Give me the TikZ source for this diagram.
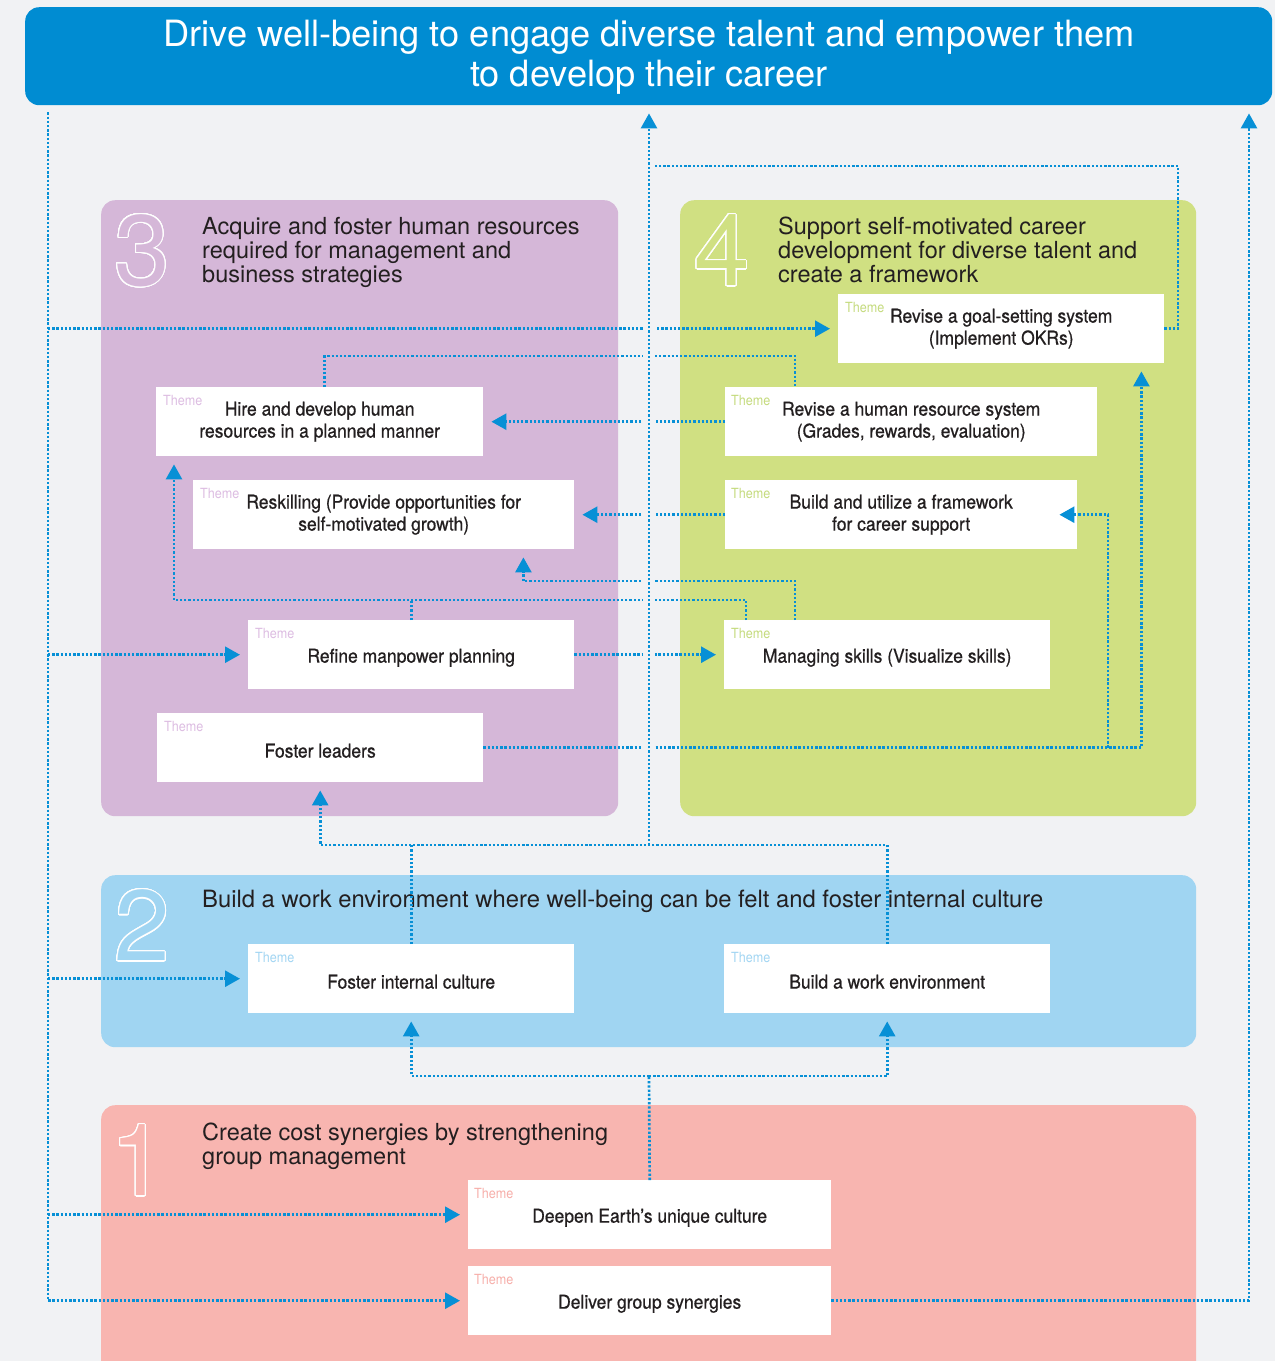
\documentclass[tikz,border=0pt]{standalone}
\usepackage{fontspec}
\setmainfont{TeX Gyre Heros}
\newfontfamily\condfont[FakeStretch=0.92,FakeBold=0.7]{TeX Gyre Heros}
\newfontfamily\themefont[FakeStretch=0.9]{TeX Gyre Heros}
\usepackage{contour}
\contourlength{1.1pt}
\contournumber{32}
\usetikzlibrary{arrows.meta,calc}
\definecolor{bgcol}{HTML}{F1F2F4}
\definecolor{titlecol}{HTML}{008CD2}
\definecolor{pthree}{HTML}{D5B7D8}
\definecolor{pfour}{HTML}{D0E082}
\definecolor{ptwo}{HTML}{A0D5F2}
\definecolor{pone}{HTML}{F8B5B0}
\definecolor{conncol}{HTML}{0790D6}
\definecolor{textcol}{HTML}{231F20}
\definecolor{tthree}{HTML}{DDBDE2}
\definecolor{tfour}{HTML}{C5DB7E}
\definecolor{ttwo}{HTML}{A3D6F3}
\definecolor{tone}{HTML}{F7AFAA}
\tikzset{
  panel/.style={anchor=north west, inner sep=0pt, rounded corners=14pt, draw=none},
  heading/.style={anchor=north west, inner sep=0pt, align=left, text=textcol,
    font=\fontsize{23.5}{24}\selectfont},
  digit/.style={inner sep=0pt, font=\fontsize{100}{100}\selectfont},
  box/.style={fill=white, anchor=north west, inner sep=0pt, align=center, text=textcol,
    minimum height=69pt, font=\condfont\fontsize{19}{22}\selectfont,
    execute at begin node={\rule{0pt}{20pt}}},
  theme/.style={anchor=base west, inner sep=0pt, font=\themefont\fontsize{14}{14}\selectfont},
  conn/.style={draw=conncol, line width=2.7pt, dash pattern=on 2.3pt off 1.9pt},
  arr/.style={-{Triangle[length=15pt,width=16pt]}, shorten >=8pt},
}
\begin{document}
\begin{tikzpicture}[x=1pt,y=-1pt]
\useasboundingbox (0,0) rectangle (1275,1361);
\clip (0,0) rectangle (1275,1361);
\fill[bgcol] (0,0) rectangle (1275,1361);

% title
\node[panel, fill=titlecol, minimum width=1247pt, minimum height=98pt] (title) at (25,7) {};
\node[text=white, align=center, inner sep=0pt, font=\fontsize{36.2}{40}\selectfont] (titletxt) at (649,57)
  {Drive well-being to engage diverse talent and empower them\\to develop their career};

% panels
\node[panel, fill=pthree, minimum width=517pt, minimum height=616pt] (p3) at (101,200) {};
\node[panel, fill=pfour, minimum width=516pt, minimum height=616pt] (p4) at (680,200) {};
\node[panel, fill=ptwo, minimum width=1095pt, minimum height=172pt] (p2) at (101,875) {};
\node[panel, fill=pone, minimum width=1095pt, minimum height=300pt] (p1) at (101,1105) {};

% digits
\node[digit, text=pthree] (n3) at (142,251) {\contour{white}{3}};
\node[digit, text=pfour] (n4) at (722,251) {\contour{white}{4}};
\node[digit, text=ptwo] (n2) at (142,926) {\contour{white}{2}};
\node[digit, text=pone] (n1) at (138,1161) {\contour{white}{1}};

% headings
\node[heading] (h3) at (202,217) {Acquire and foster human resources\\required for management and\\business strategies};
\node[heading] (h4) at (778,217) {Support self-motivated career\\development for diverse talent and\\create a framework};
\node[heading, font=\fontsize{23.8}{24}\selectfont] (h2) at (202,890) {Build a work environment where well-being can be felt and foster internal culture};
\node[heading] (h1) at (202,1123) {Create cost synergies by strengthening\\group management};

% boxes
\node[box, minimum width=326pt] (goal) at (838,294) {Revise a goal-setting system\\(Implement OKRs)};
\node[box, minimum width=327pt] (hire) at (156,387) {Hire and develop human\\resources in a planned manner};
\node[box, minimum width=372pt] (hrs) at (725,387) {Revise a human resource system\\(Grades, rewards, evaluation)};
\node[box, minimum width=381pt] (resk) at (193,480) {Reskilling (Provide opportunities for\\self-motivated growth)};
\node[box, minimum width=352pt] (frame) at (725,480) {Build and utilize a framework\\for career support};
\node[box, minimum width=326pt] (refine) at (248,620) {Refine manpower planning};
\node[box, minimum width=326pt] (skills) at (724,620) {Managing skills (Visualize skills)};
\node[box, minimum width=326pt] (leaders) at (157,713) {Foster leaders};
\node[box, minimum width=326pt] (culture) at (248,944) {Foster internal culture};
\node[box, minimum width=326pt] (workenv) at (724,944) {Build a work environment};
\node[box, minimum width=363pt] (deepen) at (468,1180) {Deepen Earth’s unique culture};
\node[box, minimum width=363pt] (deliver) at (468,1266) {Deliver group synergies};

% theme labels
\node[theme, text=tfour] (goalT) at ($(goal.north west)+(7,18)$) {Theme};
\node[theme, text=tthree] (hireT) at ($(hire.north west)+(7,18)$) {Theme};
\node[theme, text=tfour] (hrsT) at ($(hrs.north west)+(6,18)$) {Theme};
\node[theme, text=tthree] (reskT) at ($(resk.north west)+(7,18)$) {Theme};
\node[theme, text=tfour] (frameT) at ($(frame.north west)+(6,18)$) {Theme};
\node[theme, text=tthree] (refineT) at ($(refine.north west)+(7,18)$) {Theme};
\node[theme, text=tfour] (skillsT) at ($(skills.north west)+(7,18)$) {Theme};
\node[theme, text=tthree] (leadersT) at ($(leaders.north west)+(7,18)$) {Theme};
\node[theme, text=ttwo] (cultureT) at ($(culture.north west)+(7,18)$) {Theme};
\node[theme, text=ttwo] (workenvT) at ($(workenv.north west)+(7,18)$) {Theme};
\node[theme, text=tone] (deepenT) at ($(deepen.north west)+(6,18)$) {Theme};
\node[theme, text=tone] (deliverT) at ($(deliver.north west)+(6,18)$) {Theme};

% helper coordinates
\coordinate (lcol) at (48,0);
\coordinate (rcol) at (1249,0);
\coordinate (chub) at (649,845);
\coordinate (bhub) at (649,1076);
\coordinate (row166) at (0,166);
\coordinate (row356) at (0,356);
\coordinate (row581) at (0,581);
\coordinate (row600) at (0,600);
\coordinate (col1178) at (1178,0);
\coordinate (col1108) at (1108,0);
\coordinate (hireA) at ($(hire.north)+(5,0)$);
\coordinate (hrsA) at ($(hrs.north west)+(70,0)$);
\coordinate (goalB) at ($(goal.south east)+(-23,0)$);
\coordinate (skA) at ($(skills.north west)+(22,0)$);
\coordinate (hiB) at ($(hire.south west)+(18,0)$);
\coordinate (skB) at ($(skills.north west)+(71,0)$);
\coordinate (rsB) at ($(resk.south east)+(-51,0)$);

% left trunk and branches
\draw[conn, arr, shorten <=7pt] (title.south -| lcol) |- (deliver.west);
\draw[conn, arr] (goal.west -| lcol) -- (goal.west);
\draw[conn, arr] (refine.west -| lcol) -- (refine.west);
\draw[conn, arr] (culture.west -| lcol) -- (culture.west);
\draw[conn, arr] (deepen.west -| lcol) -- (deepen.west);

% right trunk
\draw[conn, arr] (deliver.east) -| (title.south -| rcol);

% bottom hub
\draw[conn] (deepen.north) -- (bhub);
\draw[conn, arr] (bhub) -| (culture.south);
\draw[conn, arr] (bhub) -| (workenv.south);

% middle hub
\draw[conn] (culture.north) |- (chub);
\draw[conn, arr] (culture.north |- chub) -| (leaders.south);
\draw[conn] (workenv.north) |- (chub);

% goal loop back to center
\draw[conn] (goal.east) -| (col1178 |- row166) -- (chub |- row166);

% hire <-> hrs
\draw[conn] (hireA) -- (hireA |- row356) -- (hrsA |- row356) -- (hrsA);
\draw[conn, arr] (hrs.west) -- (hire.east);
\draw[conn, arr] (frame.west) -- (resk.east);

% leaders to goal and frame
\draw[conn, arr] (leaders.east) -| (goalB);
\draw[conn, -{Triangle[length=15pt,width=16pt]}, shorten >=-18pt] (leaders.east -| col1108) |- (frame.east);

% refine / skills
\draw[conn, arr] (refine.east) -- (skills.west);
\draw[conn, arr] (skA) -- (skA |- row600) -- (hiB |- row600) -- (hiB);
\draw[conn] (refine.north) -- (refine.north |- row600);
\draw[conn, arr] (skB) -- (skB |- row581) -- (rsB |- row581) -- (rsB);

% gap behind the center trunk
\draw[draw=bgcol, line width=12pt] (649,140) -- (649,830);
\draw[conn, arr] (chub) -- (title.south -| chub);
\end{tikzpicture}
\end{document}
